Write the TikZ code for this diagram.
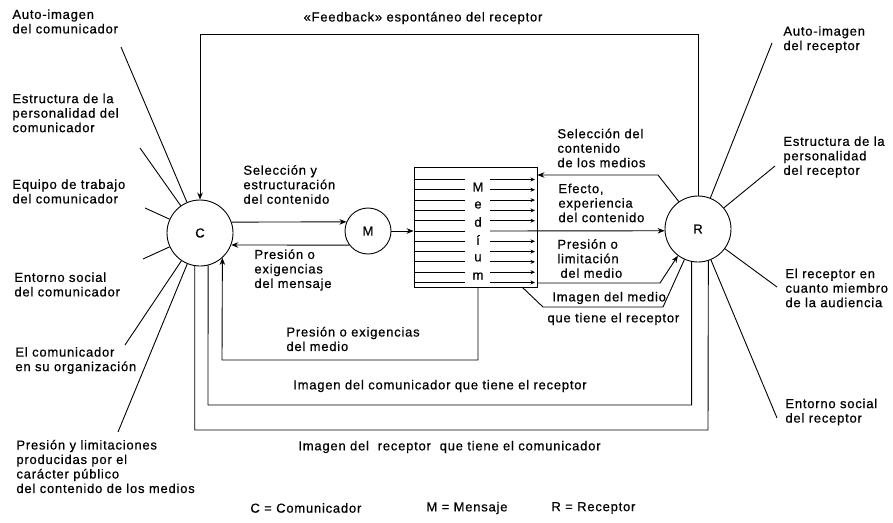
\documentclass[tikz,border=0pt]{standalone}
\usepackage{fontspec}
\setmainfont[LetterSpace=6,FakeBold=0.6]{Liberation Sans}
\usetikzlibrary{arrows.meta,calc}
\newcommand\lblfont{\fontsize{13}{14.5}\selectfont}
\begin{document}
\begin{tikzpicture}[x=1pt,y=-1pt,
  font=\lblfont,
  line width=0.9pt,
  circ/.style={draw,circle,minimum size=66pt,inner sep=0pt},
  lbl/.style={align=left,inner sep=0pt,anchor=west},
  arr/.style={-{Stealth[length=7pt,width=5.5pt]}},
  sarr/.style={-{Stealth[length=4.5pt,width=4pt]}},
]
\useasboundingbox[fill=white] (0,0) rectangle (893,522);

% main nodes
\node[circ] (C) at (200,233) {C};
\node[circ,minimum size=46pt] (M) at (368,231) {M};
\node[circ] (R) at (698,229) {R};
\node[draw,minimum width=123pt,minimum height=120pt,inner sep=0pt] (box) at (475.5,227) {};

% medium box interior
\foreach \k in {0,...,10} {
  \pgfmathsetmacro\yy{179.5+10.3*\k}
  \draw (414,\yy) -- (465,\yy);
  \ifnum\k=5\relax\else\draw[sarr] (490,\yy) -- (535,\yy);\fi
}
\foreach \l/\yy in {M/187,e/205,d/222,í/240,u/258,m/276}
  \node[inner sep=0pt] (let\yy) at (478,\yy) {\l};

% feedback
\node[inner sep=0pt] (fbt) at (423,18) {«Feedback» espontáneo del receptor};
\coordinate (fb) at (200,34);
\draw[arr] (R.north) |- (fb) -- (C.north);

% C <-> M
\draw[arr] (C.19.5) -- (M.157);
\draw[arr] (M.217.5) -- (C.-21.3);
\node[lbl] (sel) at (243,184.5) {Selección y\\estructuración\\del contenido};
\node[lbl] (pres) at (254,270) {Presión o\\exigencias\\del mensaje};

% M -> medium
\draw[arr] (M) -- (box.west |- M);
% medium -> R
\coordinate (mid) at (490,231);
\draw[arr] (mid) -- (R.183.5);

% selection of content
\coordinate (s1) at (658,175);
\draw[arr] (R.125) -- (s1) -- (box.east |- s1);
\node[lbl] (selc) at (557,148) {Selección del\\contenido\\de los medios};
\node[lbl] (efe) at (558,203) {Efecto,\\experiencia\\del contenido};

% pression of medium on R
\coordinate (p1) at (660,283);
\draw[arr] (box.east |- p1) -- (p1) -- (R.233);
\node[lbl] (plim) at (557,258.5) {Presión o\\limitación\\\hspace{3pt}del medio};

% image of medium
\coordinate (i1) at (522,287);
\coordinate (i2) at (543,307);
\coordinate (i3) at (663,307);
\draw (i1) -- (i2) -- (i3) -- (R.246);
\node[lbl] (imed) at (552,298) {Imagen del medio};
\node[lbl] (imed2) at (547,319) {que tiene el receptor};

% pression of medium on C
\coordinate (pm) at (222,360);
\draw[arr] ($(box.south)+(2.5,0)$) |- (pm) -- (C.-48.2);
\node[lbl] (pmed) at (286,339) {Presión o exigencias\\del medio};

% image of communicator
\coordinate (ic) at (208,405);
\draw (R.259.5) |- (ic) -- (C.-76);
\node[inner sep=0pt] (icl) at (440,386) {Imagen del comunicador que tiene el receptor};

% image of receiver
\coordinate (ir) at (708,430);
\draw (C.261.3) |- (ir) -- (R.-72.3);
\node[lbl] (irl) at (298,447) {Imagen del\ \ receptor\ \ que tiene el comunicador};

% left rays
\coordinate (la1) at (121,47);
\coordinate (la2) at (140,148);
\coordinate (la3) at (145,208);
\coordinate (la4) at (143,259);
\coordinate (la5) at (125,345);
\coordinate (la6) at (118,432);
\foreach \p in {la1,la2,la3,la4,la5,la6} \draw (C) -- (\p);
\node[lbl] (l1) at (12,21.5) {Auto-imagen\\del comunicador};
\node[lbl] (l2) at (12,113) {Estructura de la\\personalidad del\\comunicador};
\node[lbl] (l3) at (12,191.5) {Equipo de trabajo\\del comunicador};
\node[lbl] (l4) at (14,284.5) {Entorno social\\del comunicador};
\node[lbl] (l5) at (15,360.5) {El comunicador\\en su organización};
\node[lbl] (l6) at (16,466.5) {Presión y limitaciones\\producidas por el\\carácter público\\del contenido de los medios};

% right rays
\coordinate (ra1) at (772,43);
\coordinate (ra2) at (775,166);
\coordinate (ra3) at (777,287);
\coordinate (ra4) at (777,418);
\foreach \p in {ra1,ra2,ra3,ra4} \draw (R) -- (\p);
\node[lbl] (r1) at (783,39.5) {Auto-imagen\\del receptor};
\node[lbl] (r2) at (783,157) {Estructura de la\\personalidad\\del receptor};
\node[lbl] (r3) at (785,288) {El receptor en\\cuanto miembro\\de la audiencia};
\node[lbl] (r4) at (785,412) {Entorno social\\del receptor};

% legend
\node[lbl] (lgC) at (250,508) {C = Comunicador};
\node[lbl] (lgM) at (426,508) {M = Mensaje};
\node[lbl] (lgR) at (551,508) {R = Receptor};
\end{tikzpicture}
\end{document}
